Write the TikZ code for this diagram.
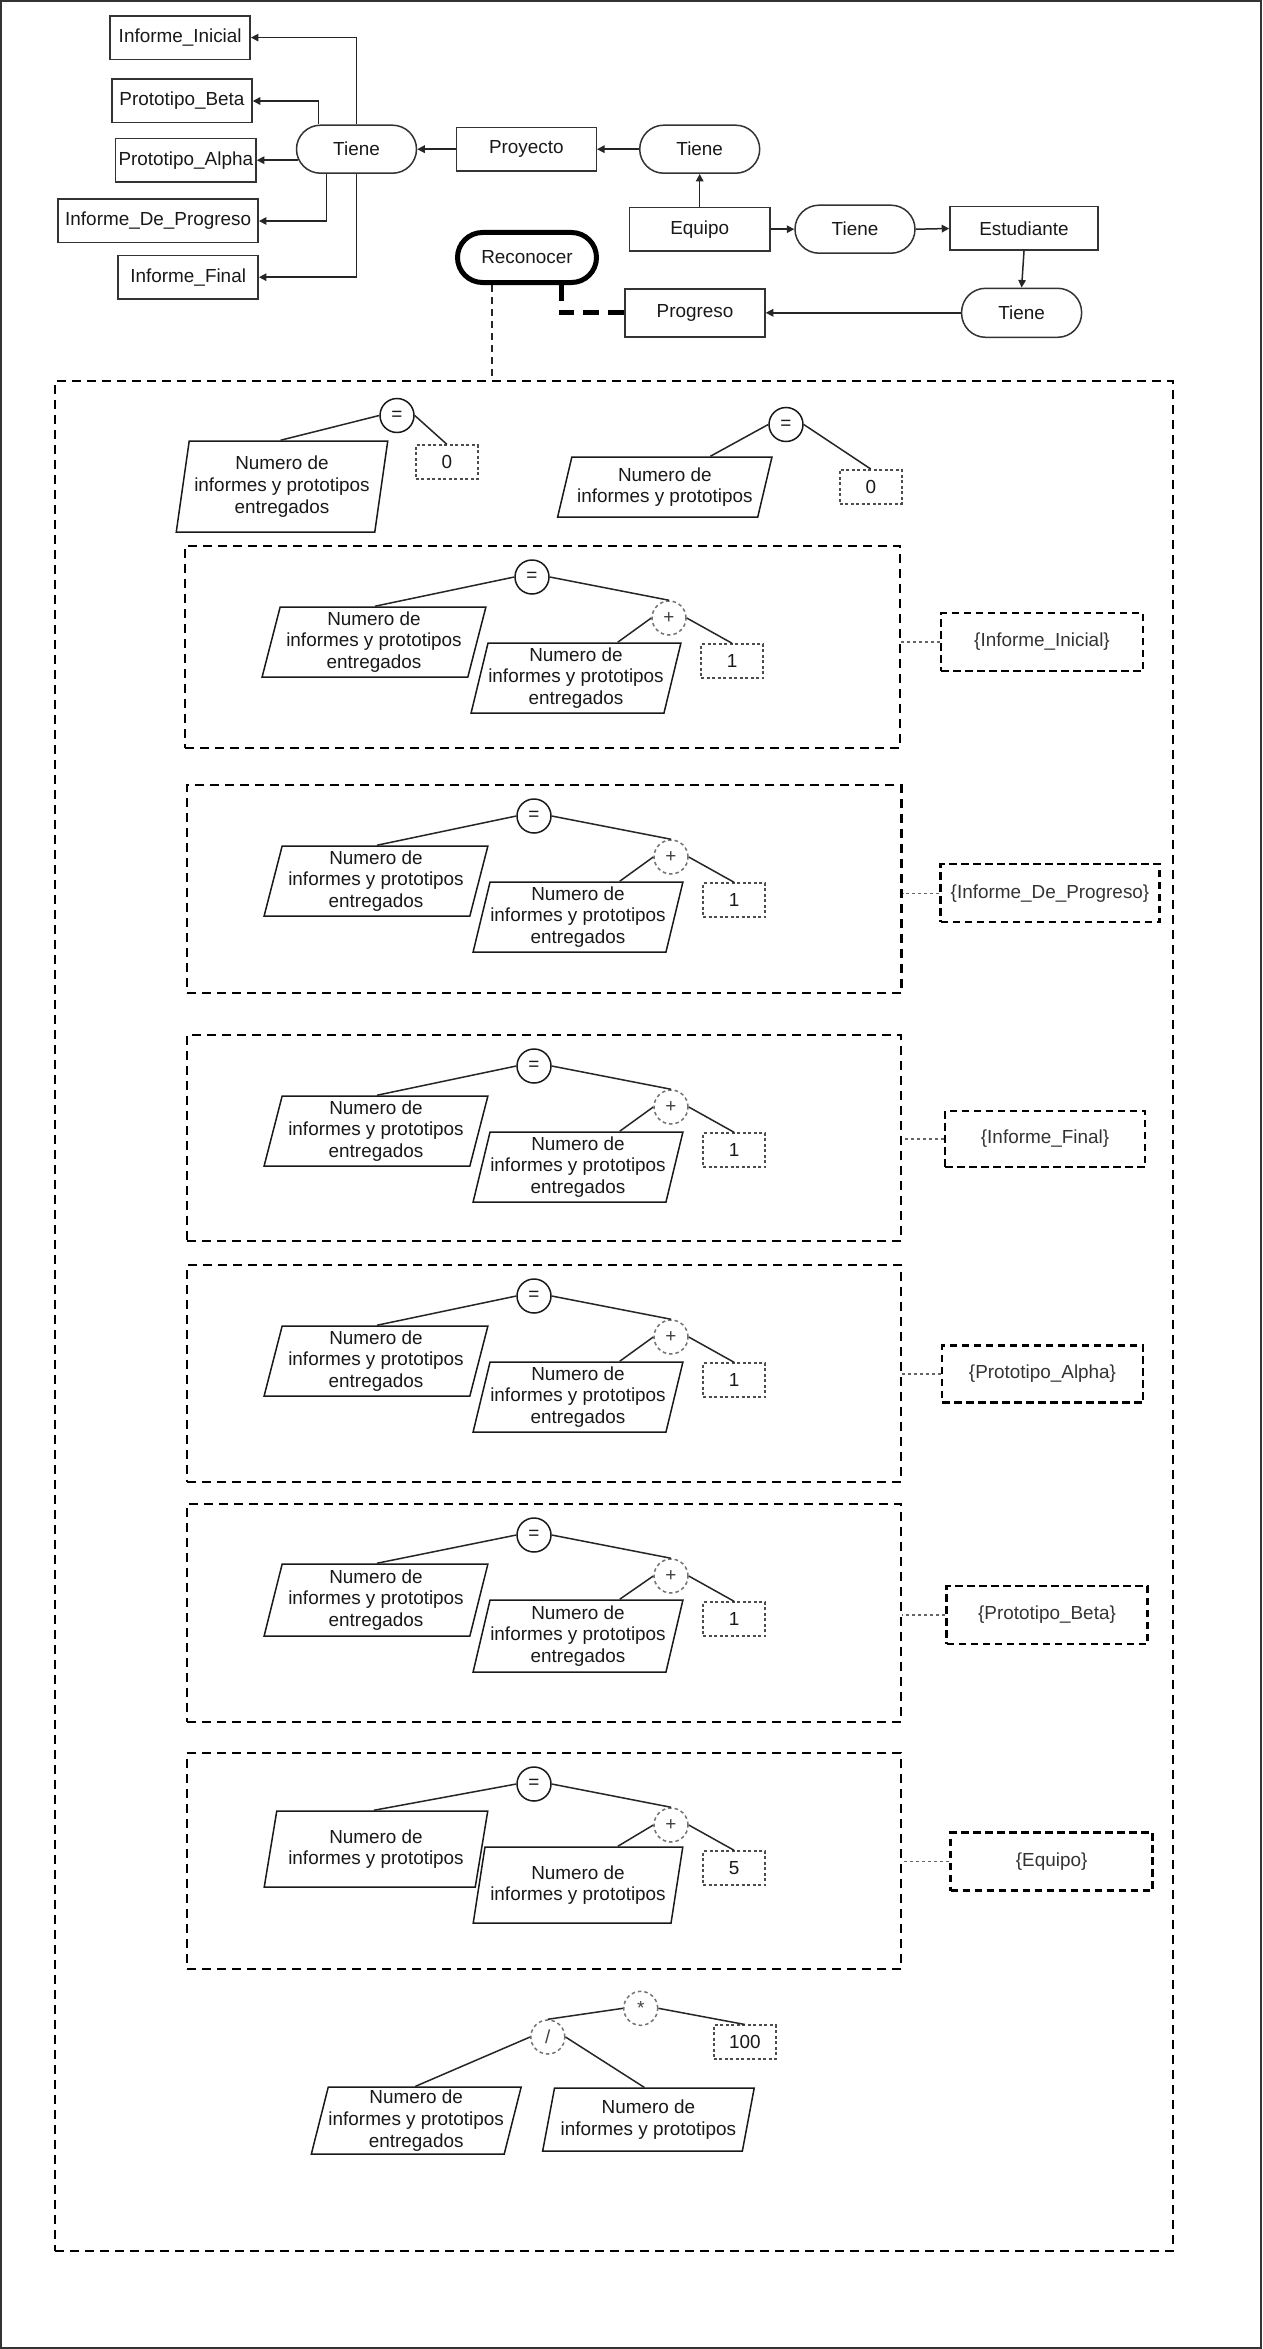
\documentclass[tikz,border=0pt]{standalone}
\usepackage{fontspec}
\setmainfont{Liberation Sans}
\usetikzlibrary{shapes.geometric,arrows.meta,calc}
\newcommand\diagfont{\fontsize{18.9pt}{21.7pt}\selectfont}
\tikzset{
  every node/.style={font=\diagfont, text=black!90},
  ent/.style={draw=black!80, line width=1.5pt, rectangle, minimum height=43.5pt, inner sep=2pt},
  rel/.style={draw=black!80, line width=1.5pt, rectangle, rounded corners=24pt, minimum width=120pt, minimum height=48pt, inner sep=2pt},
  arr/.style={-{Triangle[length=7.5pt,width=7.5pt]}, line width=1.5pt, draw=black!85},
  link/.style={line width=1.5pt, draw=black!85},
  opeq/.style={circle, draw=black!90, line width=1.5pt, minimum size=34pt, inner sep=0pt},
  opdash/.style={circle, draw=black!55, line width=1.5pt, dash pattern=on 3.5pt off 3pt, minimum size=34pt, inner sep=0pt, text=black!75},
  valbox/.style={rectangle, draw=black!70, line width=1.5pt, dash pattern=on 3pt off 2.5pt, minimum width=62pt, minimum height=34pt, inner sep=1pt},
  para/.style={trapezium, trapezium left angle=75, trapezium right angle=105, trapezium stretches=true, draw=black!90, line width=1.5pt, align=center, inner xsep=0pt, inner ysep=1pt},
  boxd/.style={rectangle, draw=black, line width=2.25pt, dash pattern=on 9pt off 6pt, inner sep=0pt},
  labd/.style={rectangle, draw=black, line width=2.25pt, dash pattern=on 7.5pt off 4.5pt, minimum height=58pt, inner sep=2pt, text=black!80},
  dotl/.style={draw=black!60, line width=1.5pt, dash pattern=on 3pt off 3pt},
  recdash/.style={draw=black!85, line width=2pt, dash pattern=on 7pt off 5pt},
  thickdash/.style={draw=black, line width=5pt, dash pattern=on 16pt off 9pt},
}
\newcommand\ExprBox[9]{%
  \node[boxd, minimum width=#4pt, minimum height=#5pt] (#1box) at ({#2+#4/2},{#3+#5/2}) {};
  \node[opeq] (#1eq) at ({#2+347},{#3+31}) {=};
  \node[para, minimum width=224pt, minimum height=#9pt] (#1lp) at ({#2+189},{#3+96}) {#7};
  \node[opdash] (#1pl) at ({#2+484},{#3+72}) {+};
  \node[para, minimum width=210pt, minimum height=#9pt] (#1rp) at ({#2+391},{#3+132}) {#8};
  \node[valbox] (#1val) at ({#2+547},{#3+115}) {#6};
  \draw[link] (#1eq.west) -- ($(#1lp.top left corner)!0.46!(#1lp.top right corner)$);
  \draw[link] (#1eq.east) -- (#1pl.north);
  \draw[link] (#1pl.west) -- ($(#1rp.top left corner)!0.67!(#1rp.top right corner)$);
  \draw[link] (#1pl.east) -- (#1val.north);
}
\begin{document}
\begin{tikzpicture}[x=1pt,y=-1pt]
\useasboundingbox (0,0) rectangle (1262,2349);
\fill[white] (0,0) rectangle (1262,2349);
\draw[line width=2pt, draw=black!80] (1,1) rectangle (1261,2348);

% top entities and relations
\node[ent, minimum width=140pt] (II) at (180.2,37.6) {Informe\_Inicial};
\node[ent, minimum width=140pt] (PB) at (182,101) {Prototipo\_Beta};
\node[ent, minimum width=140.5pt] (PA) at (185.8,160.2) {Prototipo\_Alpha};
\node[ent, minimum width=200pt] (DP) at (158.2,221) {Informe\_De\_Progreso};
\node[ent, minimum width=140pt] (IF) at (188.2,277.2) {Informe\_Final};
\node[rel] (T1) at (356.5,149.2) {Tiene};
\node[ent, minimum width=140pt] (Pr) at (526.3,149.2) {Proyecto};
\node[rel] (T2) at (699.7,149.2) {Tiene};
\node[ent, minimum width=140.6pt] (Eq) at (699.7,229.2) {Equipo};
\node[rel] (T3) at (855,229.2) {Tiene};
\node[ent, minimum width=148pt] (Es) at (1024,228.5) {Estudiante};
\node[rel, minimum height=49pt] (T4) at (1021.6,312.8) {Tiene};
\node[ent, minimum width=140pt, minimum height=48pt] (Pg) at (695,312.8) {Progreso};
\node[rel, draw=black, line width=5pt, minimum width=139pt, minimum height=50pt, rounded corners=25pt] (Rc) at (527,257.5) {Reconocer};

\coordinate (t1a) at ([xshift=2.7pt]T1.west);
\draw[arr] (T1.north) |- (II.east);
\draw[arr] ([xshift=-38.1pt]T1.north) |- (PB.east);
\draw[arr] (t1a |- PA.east) -- (PA.east);
\draw[arr] ([xshift=-30pt]T1.south) |- (DP.east);
\draw[arr] (T1.south) |- (IF.east);
\draw[arr] (Pr.west) -- (T1.east);
\draw[arr] (T2.west) -- (Pr.east);
\draw[arr] (Eq.north) -- (T2.south);
\draw[arr] (Eq.east) -- (T3.west);
\draw[arr] (T3.east) -- (Es.west);
\draw[arr] (Es.south) -- (T4.north);
\draw[arr] (T4.west) -- (Pg.east);

% main container
\node[boxd, minimum width=1118pt, minimum height=1870pt] (main) at (614,1316) {};
\coordinate (rcA) at ([xshift=-35.2pt]Rc.south);
\coordinate (rcB) at ([xshift=34.2pt]Rc.south);
\draw[recdash] (rcA) -- (rcA |- main.north);
\draw[thickdash] (rcB) |- (Pg.west);

% first row
\node[opeq] (r1eq) at (397,415.5) {=};
\node[para, trapezium left angle=79, trapezium right angle=101, minimum width=212pt, minimum height=91pt] (r1p) at (282,486.5) {Numero de\\informes y prototipos\\entregados};
\node[valbox] (r1v) at (446.8,462) {0};
\draw[link] (r1eq.west) -- ($(r1p.top left corner)!0.46!(r1p.top right corner)$);
\draw[link] (r1eq.east) -- (r1v.north);
\node[opeq] (r2eq) at (786,424.5) {=};
\node[para, trapezium left angle=72, trapezium right angle=108, minimum width=215pt, minimum height=60pt] (r2p) at (664.8,487) {Numero de\\informes y prototipos};
\node[valbox] (r2v) at (870.8,486.8) {0};
\draw[link] (r2eq.west) -- ($(r2p.top left corner)!0.69!(r2p.top right corner)$);
\draw[link] (r2eq.east) -- (r2v.north);

% boxed expressions
\ExprBox{A}{185}{546}{715}{202}{1}{Numero de\\informes y prototipos\\entregados}{Numero de\\informes y prototipos\\entregados}{70}
\ExprBox{B}{187}{785}{714.5}{208}{1}{Numero de\\informes y prototipos\\entregados}{Numero de\\informes y prototipos\\entregados}{70}
\ExprBox{C}{187}{1035}{714}{206}{1}{Numero de\\informes y prototipos\\entregados}{Numero de\\informes y prototipos\\entregados}{70}
\ExprBox{D}{187}{1265}{714}{217}{1}{Numero de\\informes y prototipos\\entregados}{Numero de\\informes y prototipos\\entregados}{70}
\ExprBox{E}{187}{1504}{714}{218}{1}{Numero de\\informes y prototipos\\entregados}{Numero de\\informes y prototipos\\entregados}{72}
\ExprBox{F}{187}{1753}{714}{216}{5}{Numero de\\informes y prototipos}{Numero de\\informes y prototipos}{76}

% labels
\node[labd, minimum width=202pt] (LA) at (1042,642) {\{Informe\_Inicial\}};
\node[labd, minimum width=219pt] (LB) at (1050,893.3) {\{Informe\_De\_Progreso\}};
\node[labd, minimum width=200pt, minimum height=56pt] (LC) at (1045,1139) {\{Informe\_Final\}};
\node[labd, minimum width=201pt, minimum height=57pt] (LD) at (1042.5,1374) {\{Prototipo\_Alpha\}};
\node[labd, minimum width=201pt] (LE) at (1047,1615) {\{Prototipo\_Beta\}};
\node[labd, minimum width=202pt] (LF) at (1051.6,1861.5) {\{Equipo\}};
\draw[dotl] (LA.west) -- (LA.west -| Abox.east);
\draw[dotl] (LB.west) -- (LB.west -| Bbox.east);
\draw[dotl] (LC.west) -- (LC.west -| Cbox.east);
\draw[dotl] (LD.west) -- (LD.west -| Dbox.east);
\draw[dotl] (LE.west) -- (LE.west -| Ebox.east);
\draw[dotl] (LF.west) -- (LF.west -| Fbox.east);

% bottom expression
\node[opdash] (mul) at (640.7,2008.3) {*};
\node[opdash] (div) at (547.8,2037) {/};
\node[valbox] (v100) at (744.8,2042.2) {100};
\node[para, minimum width=210pt, minimum height=67pt] (bl) at (416.2,2120.7) {Numero de\\informes y prototipos\\entregados};
\node[para, minimum width=212pt, minimum height=63pt] (br) at (648.4,2119.7) {Numero de\\informes y prototipos};
\draw[link] (mul.west) -- (div.north);
\draw[link] (mul.east) -- (v100.north);
\draw[link] (div.west) -- ($(bl.top left corner)!0.45!(bl.top right corner)$);
\draw[link] (div.east) -- ($(br.top left corner)!0.45!(br.top right corner)$);
\end{tikzpicture}
\end{document}
